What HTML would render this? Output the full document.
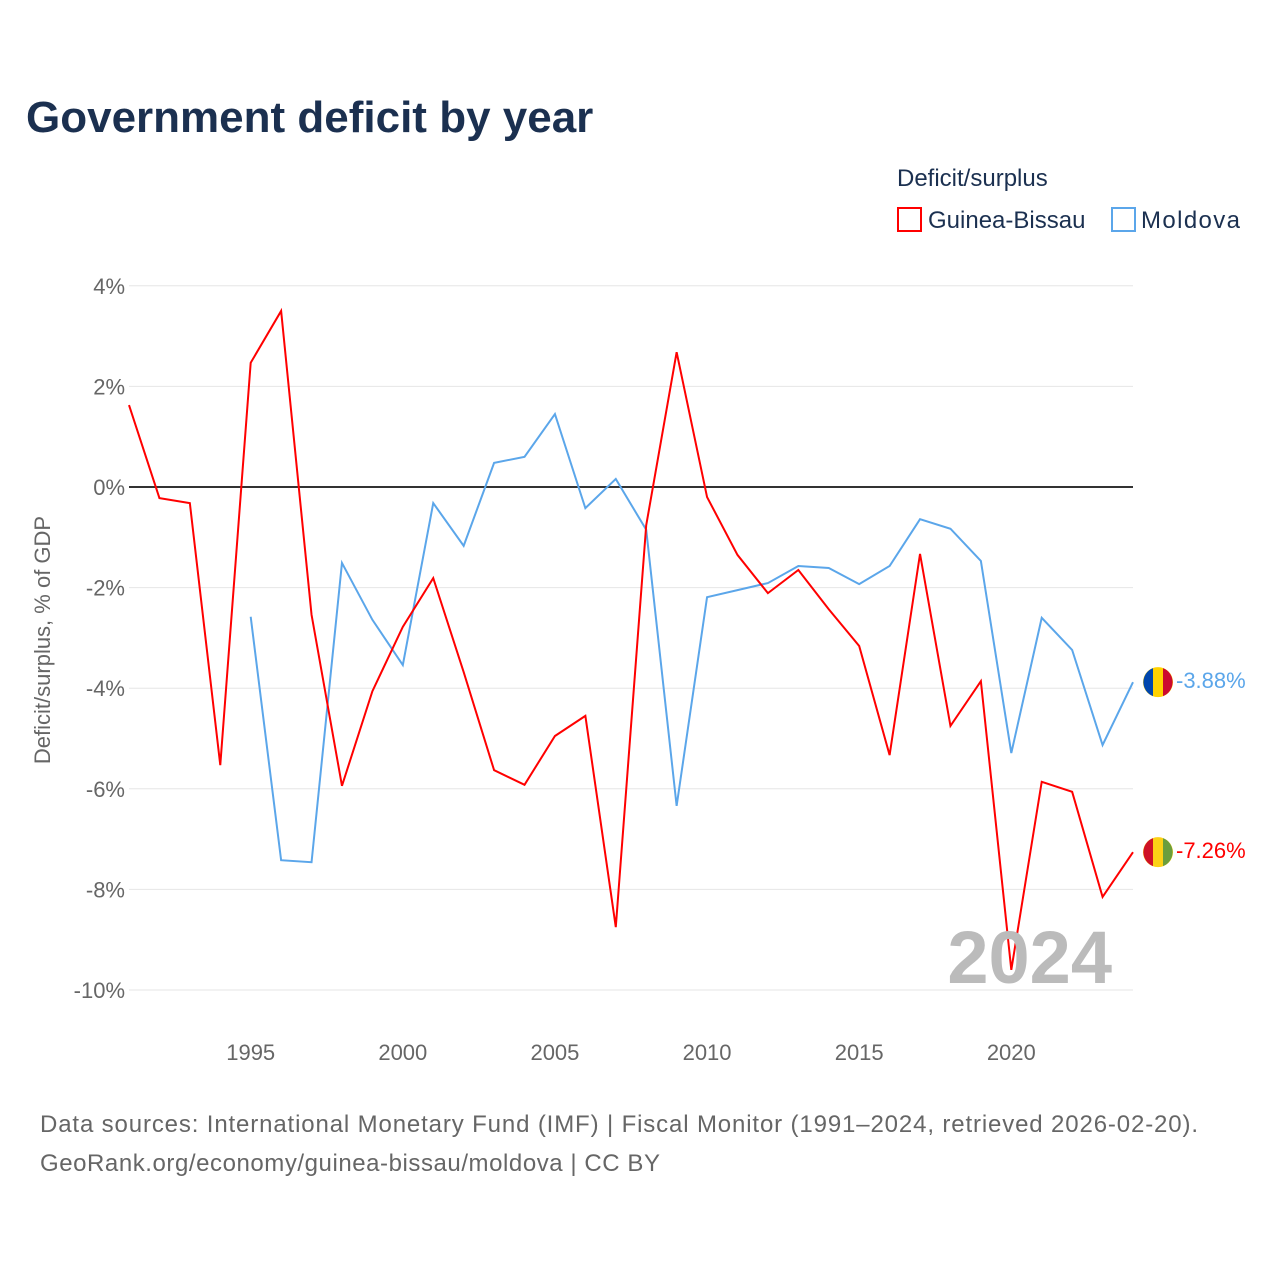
<!DOCTYPE html>
<html><head><meta charset="utf-8"><style>
body{margin:0;background:#fff;width:1280px;height:1280px;overflow:hidden;font-family:"Liberation Sans",sans-serif}
</style></head><body>
<svg id="chart" width="1280" height="1280" xmlns="http://www.w3.org/2000/svg">
<text x="26" y="132" font-size="44" font-weight="bold" fill="#1b3050">Government deficit by year</text>
<text x="897" y="186" font-size="24" fill="#1b3050">Deficit/surplus</text>
<g><rect x="898" y="208" width="23" height="23" fill="none" stroke="#f00" stroke-width="2"/><text x="928" y="228" font-size="24" fill="#1b3050">Guinea-Bissau</text></g>
<g><rect x="1112" y="208" width="23" height="23" fill="none" stroke="#5ba6ea" stroke-width="2"/><text x="1141" y="228" font-size="24" fill="#1b3050" textLength="99">Moldova</text></g>
<text transform="translate(50,640) rotate(-90)" text-anchor="middle" font-size="22" fill="#666">Deficit/surplus, % of GDP</text>
<g id="grid"></g><g id="series"></g>
<text x="1112" y="983" text-anchor="end" font-size="74" font-weight="bold" fill="#bbb">2024</text>
<text x="40" y="1132" font-size="24" fill="#666" textLength="1158">Data sources: International Monetary Fund (IMF) | Fiscal Monitor (1991–2024, retrieved 2026-02-20).</text>
<text x="40" y="1171" font-size="24" fill="#666" textLength="620">GeoRank.org/economy/guinea-bissau/moldova | CC BY</text>
</svg>
<script>
const gbYears=[1991,1992,1993,1994,1995,1996,1997,1998,1999,2000,2001,2002,2003,2004,2005,2006,2007,2008,2009,2010,2011,2012,2013,2014,2015,2016,2017,2018,2019,2020,2021,2022,2023,2024];
const gbValues=[1.63,-0.22,-0.32,-5.53,2.47,3.5,-2.54,-5.94,-4.06,-2.78,-1.81,-3.68,-5.63,-5.92,-4.95,-4.55,-8.75,-0.76,2.68,-0.2,-1.35,-2.11,-1.65,-2.43,-3.16,-5.33,-1.33,-4.75,-3.86,-9.6,-5.86,-6.06,-8.15,-7.26];
const mdYears=[1995,1996,1997,1998,1999,2000,2001,2002,2003,2004,2005,2006,2007,2008,2009,2010,2011,2012,2013,2014,2015,2016,2017,2018,2019,2020,2021,2022,2023,2024];
const mdValues=[-2.58,-7.42,-7.46,-1.51,-2.64,-3.54,-0.32,-1.17,0.48,0.6,1.45,-0.42,0.16,-0.85,-6.34,-2.19,-2.05,-1.91,-1.57,-1.61,-1.93,-1.57,-0.64,-0.83,-1.47,-5.29,-2.6,-3.24,-5.13,-3.88];
const yTicks=[4,2,0,-2,-4,-6,-8,-10];
const xTicks=[1995,2000,2005,2010,2015,2020];
const X=y=>129+(y-1991)*(1133-129)/33;
const Y=v=>487-v*50.3;
const NS="http://www.w3.org/2000/svg";
function mk(p,t,a){const e=document.createElementNS(NS,t);for(const k in a)e.setAttribute(k,a[k]);p.appendChild(e);return e;}
const grid=document.getElementById('grid'),ser=document.getElementById('series');
yTicks.forEach(v=>{
 const l=mk(grid,'line',{x1:129,x2:1133,y1:Y(v),y2:Y(v),stroke:v===0?'#333':'#e6e6e6','stroke-width':v===0?2:1});
 
 
 const t=mk(grid,'text',{x:125,y:Y(v)+8,'text-anchor':'end','font-size':22,fill:'#666'});
 t.textContent=v+'%';
 
 
});
xTicks.forEach(y=>{
 const t=mk(grid,'text',{x:X(y),y:1060,'text-anchor':'middle','font-size':22,fill:'#666'});
 t.textContent=y;
 
 
});
function line(ys,vs,col,name,flagCols){
 const p=mk(ser,'polyline',{points:ys.map((y,i)=>X(y)+','+Y(vs[i])).join(' '),fill:'none',stroke:col,'stroke-width':2});
 
 
 const lx=X(ys[ys.length-1])+25,ly=Y(vs[vs.length-1]);
 const g=mk(ser,'g',{});
 
 
 mk(g,'circle',{cx:lx,cy:ly,r:15,fill:flagCols[1]});
 mk(g,'path',{d:`M${lx-5},${ly-14} A15,15 0 0 0 ${lx-5},${ly+14} Z`,fill:flagCols[0]});
 mk(g,'path',{d:`M${lx+5},${ly-14} A15,15 0 0 1 ${lx+5},${ly+14} Z`,fill:flagCols[2]});
 const t=mk(ser,'text',{x:lx+18,y:ly+6,'font-size':22,fill:col});
 t.textContent=vs[vs.length-1].toFixed(2)+'%';
 
 
}
line(mdYears,mdValues,'#5ba6ea','moldova',['#0046ae','#ffd200','#cc092f']);
line(gbYears,gbValues,'#f00','guinea-bissau',['#ce1126','#fcd116','#6a9e3d']);
</script>
</body></html>
